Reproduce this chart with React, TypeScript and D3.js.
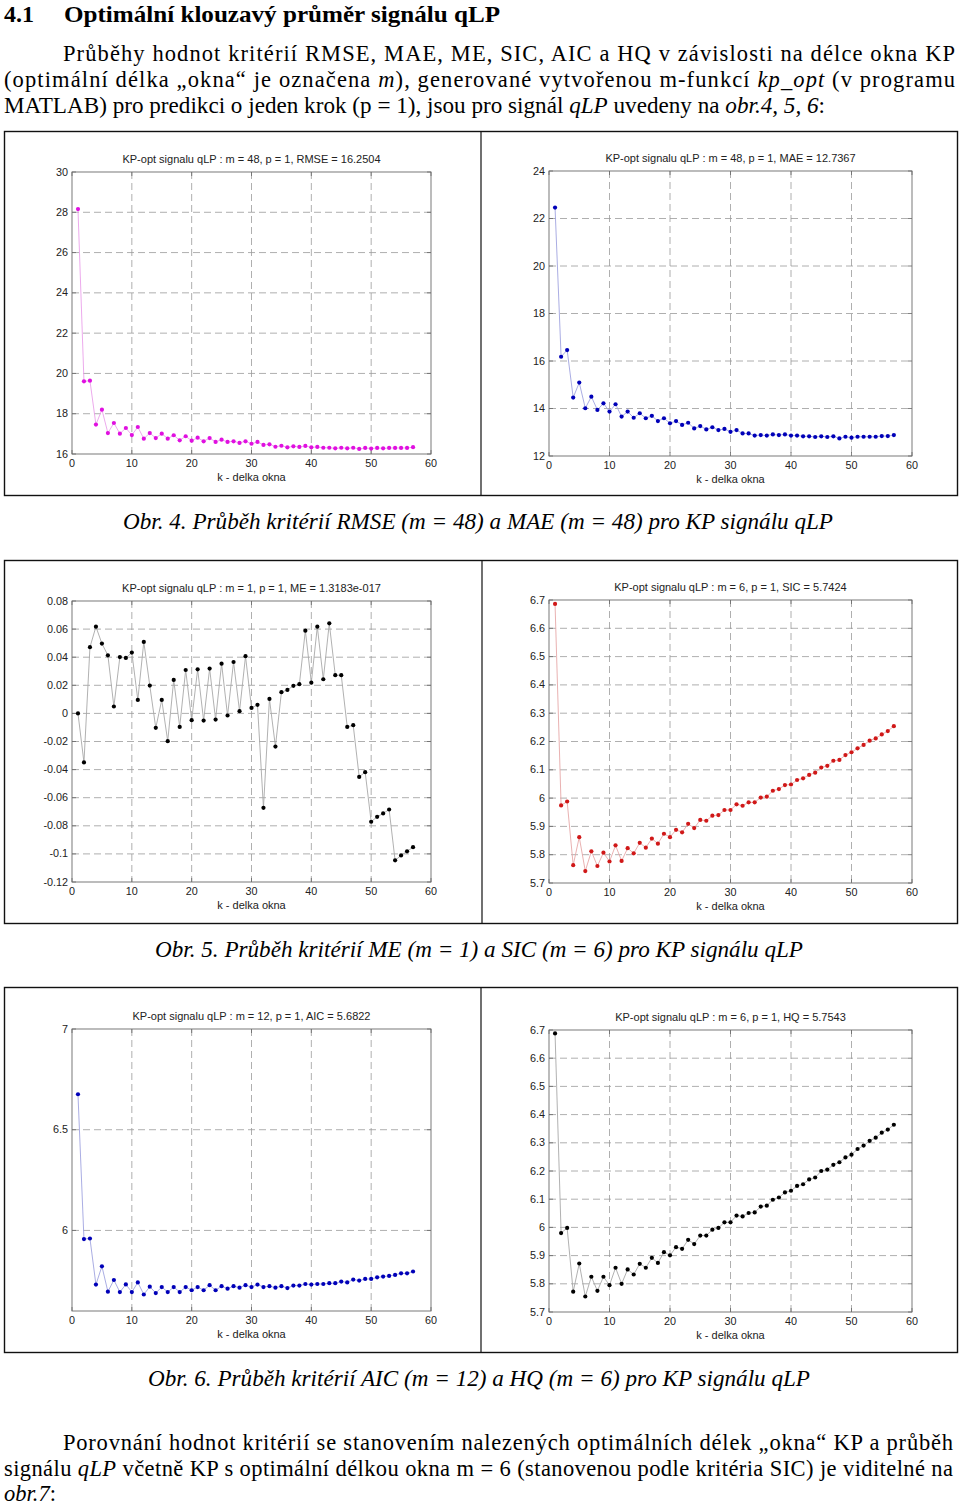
import React from 'react';
import * as d3 from 'd3';

const kValues = [1,2,3,4,5,6,7,8,9,10,11,12,13,14,15,16,17,18,19,20,21,22,23,24,25,26,27,28,29,30,31,32,33,34,35,36,37,38,39,40,41,42,43,44,45,46,47,48,49,50,51,52,53,54,55,56,57];

const rmseValues = [28.16,19.61,19.64,17.46,18.20,17.04,17.54,17.01,17.29,16.94,17.34,16.76,17.04,16.79,17.01,16.76,16.93,16.68,16.88,16.66,16.81,16.63,16.79,16.60,16.71,16.60,16.63,16.55,16.63,16.51,16.60,16.45,16.48,16.36,16.41,16.33,16.38,16.35,16.40,16.33,16.35,16.31,16.31,16.28,16.31,16.28,16.31,16.25,16.30,16.27,16.30,16.28,16.30,16.30,16.30,16.30,16.34];

const maeValues = [22.46,16.18,16.46,14.46,15.09,14.01,14.50,13.94,14.22,13.87,14.18,13.66,13.87,13.61,13.80,13.59,13.69,13.47,13.59,13.38,13.47,13.31,13.40,13.16,13.26,13.12,13.21,13.09,13.14,13.02,13.09,12.95,12.95,12.86,12.88,12.86,12.91,12.88,12.91,12.86,12.86,12.83,12.83,12.80,12.83,12.80,12.83,12.74,12.81,12.77,12.81,12.81,12.81,12.81,12.84,12.84,12.88];

const meValues = [0.000,-0.0349,0.0471,0.0617,0.0497,0.0413,0.0049,0.0401,0.0395,0.0433,0.0096,0.0509,0.0198,-0.0103,0.0096,-0.0198,0.0238,-0.0096,0.0309,-0.0048,0.0314,-0.0051,0.0319,-0.0044,0.0354,-0.0015,0.0366,0.0016,0.0407,0.0039,0.0061,-0.0672,0.0103,-0.0236,0.0151,0.0167,0.0196,0.0208,0.0589,0.0219,0.0617,0.0243,0.0641,0.0272,0.0272,-0.0096,-0.0084,-0.0452,-0.0418,-0.0771,-0.0736,-0.0712,-0.0684,-0.1046,-0.1011,-0.0982,-0.0952];

const sicValues = [6.686,5.974,5.988,5.763,5.862,5.742,5.812,5.760,5.807,5.776,5.833,5.778,5.823,5.805,5.842,5.825,5.857,5.839,5.874,5.862,5.888,5.879,5.909,5.894,5.923,5.920,5.938,5.940,5.958,5.958,5.978,5.973,5.985,5.985,6.002,6.005,6.026,6.032,6.046,6.048,6.064,6.070,6.082,6.090,6.108,6.114,6.132,6.135,6.152,6.162,6.176,6.188,6.203,6.211,6.225,6.237,6.254];

const aicValues = [6.676,5.957,5.960,5.731,5.822,5.696,5.754,5.694,5.732,5.694,5.742,5.682,5.721,5.689,5.719,5.694,5.719,5.694,5.719,5.703,5.719,5.703,5.728,5.703,5.723,5.711,5.723,5.716,5.728,5.719,5.731,5.719,5.723,5.716,5.723,5.714,5.726,5.726,5.734,5.731,5.734,5.734,5.738,5.738,5.746,5.742,5.756,5.751,5.759,5.759,5.767,5.771,5.774,5.779,5.787,5.787,5.796];

const hqValues = [6.688,5.980,5.998,5.772,5.872,5.755,5.825,5.775,5.825,5.795,5.857,5.800,5.851,5.833,5.871,5.857,5.892,5.874,5.912,5.901,5.930,5.924,5.956,5.941,5.971,5.971,5.992,5.998,6.018,6.018,6.042,6.039,6.051,6.053,6.074,6.077,6.098,6.106,6.124,6.130,6.147,6.153,6.170,6.177,6.200,6.205,6.222,6.231,6.248,6.258,6.278,6.290,6.307,6.318,6.336,6.347,6.364];

const xTicks = [0,10,20,30,40,50,60];
const rmseTicks = [16,18,20,22,24,26,28,30];
const maeTicks = [12,14,16,18,20,22,24];
const meTicks = [-0.12,-0.1,-0.08,-0.06,-0.04,-0.02,0,0.02,0.04,0.06,0.08];
const sicTicks = [5.7,5.8,5.9,6,6.1,6.2,6.3,6.4,6.5,6.6,6.7];
const aicTicks = [6,6.5,7];
const hqTicks = [5.7,5.8,5.9,6,6.1,6.2,6.3,6.4,6.5,6.6,6.7];

const titles = [
  'KP-opt signalu qLP : m = 48, p = 1, RMSE = 16.2504',
  'KP-opt signalu qLP : m = 48, p = 1, MAE = 12.7367',
  'KP-opt signalu qLP : m = 1, p = 1, ME = 1.3183e-017',
  'KP-opt signalu qLP : m = 6, p = 1, SIC = 5.7424',
  'KP-opt signalu qLP : m = 12, p = 1, AIC = 5.6822',
  'KP-opt signalu qLP : m = 6, p = 1, HQ = 5.7543',
];
const xLabel = 'k - delka okna';

const SANS = '"Liberation Sans", Arial, Helvetica, sans-serif';
const SERIF = '"Liberation Serif", "Times New Roman", Times, serif';

type PanelProps = {
  L: number; T: number; R: number; B: number;
  yDomain: [number, number];
  yTicks: number[];
  values: number[];
  title: string;
  color: string;
  lineColor: string;
};

const fmt = (v: number) => String(Math.round(v * 1000) / 1000);

function Panel({ L, T, R, B, yDomain, yTicks, values, title, color, lineColor }: PanelProps) {
  const x = d3.scaleLinear().domain([0, 60]).range([L, R]);
  const y = d3.scaleLinear().domain(yDomain).range([B, T]);
  const line = d3.line<number>().x((_, i) => x(kValues[i])).y((d) => y(d));
  const gridX = xTicks.filter((t) => t > 0 && t < 60);
  const gridY = yTicks.filter((t) => Math.abs(y(t) - T) > 1 && Math.abs(y(t) - B) > 1);
  const tl = 4;
  return (
    <g>
      <rect x={L} y={T} width={R - L} height={B - T} fill="#fff" />
      {gridX.map((t) => (
        <line key={'gx' + t} x1={x(t)} x2={x(t)} y1={T} y2={B} stroke="#9a9a9a" strokeWidth={0.8} strokeDasharray="7,4" />
      ))}
      {gridY.map((t) => (
        <line key={'gy' + t} x1={L} x2={R} y1={y(t)} y2={y(t)} stroke="#9a9a9a" strokeWidth={0.8} strokeDasharray="7,4" />
      ))}
      {xTicks.map((t) => (
        <g key={'xt' + t}>
          <line x1={x(t)} x2={x(t)} y1={B} y2={B - tl} stroke="#666" strokeWidth={0.8} />
          <line x1={x(t)} x2={x(t)} y1={T} y2={T + tl} stroke="#666" strokeWidth={0.8} />
          <text x={x(t)} y={B + 13} fontSize={10.8} fontFamily={SANS} textAnchor="middle" fill="#222">{fmt(t)}</text>
        </g>
      ))}
      {yTicks.map((t) => (
        <g key={'yt' + t}>
          <line x1={L} x2={L + tl} y1={y(t)} y2={y(t)} stroke="#666" strokeWidth={0.8} />
          <line x1={R} x2={R - tl} y1={y(t)} y2={y(t)} stroke="#666" strokeWidth={0.8} />
          <text x={L - 4} y={y(t) + 3.5} fontSize={10.8} fontFamily={SANS} textAnchor="end" fill="#222">{fmt(t)}</text>
        </g>
      ))}
      <rect x={L} y={T} width={R - L} height={B - T} fill="none" stroke="#6a6a6a" strokeWidth={0.9} />
      <path d={line(values) || ''} fill="none" stroke={lineColor} strokeWidth={0.9} />
      {values.map((v, i) => (
        <circle key={'p' + i} cx={x(kValues[i])} cy={y(v)} r={2.1} fill={color} />
      ))}
      <text x={(L + R) / 2} y={T - 9} fontSize={11} fontFamily={SANS} textAnchor="middle" fill="#222">{title}</text>
      <text x={(L + R) / 2} y={B + 27} fontSize={11} fontFamily={SANS} textAnchor="middle" fill="#222">{xLabel}</text>
    </g>
  );
}

const frames = [
  { top: 131, bottom: 495, div: 481 },
  { top: 560, bottom: 923, div: 482 },
  { top: 987, bottom: 1352, div: 481 },
];

export default function App() {
  return (
    <svg width={960} height={1506} viewBox="0 0 960 1506" style={{ position: 'absolute', left: 0, top: 0, background: '#fff' }}>
      <rect x={0} y={0} width={960} height={1506} fill="#fff" />
      <text x={4} y={22} fontFamily={SERIF} fontWeight="bold" fontSize={24}>4.1</text>
      <text x={64} y={22} fontFamily={SERIF} fontWeight="bold" fontSize={24} textLength={436} lengthAdjust="spacingAndGlyphs">Optimální klouzavý průměr signálu qLP</text>
      <text x={63} y={61} fontFamily={SERIF} fontSize={22.5} textLength={892} lengthAdjust="spacing">Průběhy hodnot kritérií RMSE, MAE, ME, SIC, AIC a HQ v závislosti na délce okna KP</text>
      <text x={4} y={87} fontFamily={SERIF} fontSize={22.5} textLength={951} lengthAdjust="spacing">
        (optimální délka „okna“ je označena <tspan fontStyle="italic">m</tspan>), generované vytvořenou m-funkcí <tspan fontStyle="italic">kp_opt</tspan> (v programu
      </text>
      <text x={4} y={113} fontFamily={SERIF} fontSize={22.5} textLength={821} lengthAdjust="spacingAndGlyphs">
        MATLAB) pro predikci o jeden krok (p = 1), jsou pro signál <tspan fontStyle="italic">qLP</tspan> uvedeny na <tspan fontStyle="italic">obr.4, 5, 6</tspan>:
      </text>

      {frames.map((f, i) => (
        <g key={'f' + i}>
          <rect x={4.5} y={f.top + 0.5} width={953} height={f.bottom - f.top} fill="none" stroke="#111" strokeWidth={1.4} />
          <line x1={f.div} x2={f.div} y1={f.top} y2={f.bottom} stroke="#111" strokeWidth={1.2} />
        </g>
      ))}

      <Panel L={72} T={172} R={431} B={454} yDomain={[16, 30]} yTicks={rmseTicks} values={rmseValues} title={titles[0]} color="#e010e0" lineColor="#eaa0ea" />
      <Panel L={549} T={171} R={912} B={456} yDomain={[12, 24]} yTicks={maeTicks} values={maeValues} title={titles[1]} color="#0000b8" lineColor="#a0a4e0" />
      <Panel L={72} T={601} R={431} B={882} yDomain={[-0.12, 0.08]} yTicks={meTicks} values={meValues} title={titles[2]} color="#000" lineColor="#a8a8a8" />
      <Panel L={549} T={600} R={912} B={883} yDomain={[5.7, 6.7]} yTicks={sicTicks} values={sicValues} title={titles[3]} color="#d01818" lineColor="#e6a8a8" />
      <Panel L={72} T={1029} R={431} B={1311} yDomain={[5.6, 7]} yTicks={aicTicks} values={aicValues} title={titles[4]} color="#0000b8" lineColor="#a0a4e0" />
      <Panel L={549} T={1030} R={912} B={1312} yDomain={[5.7, 6.7]} yTicks={hqTicks} values={hqValues} title={titles[5]} color="#000" lineColor="#a8a8a8" />

      <text x={478} y={529} fontFamily={SERIF} fontStyle="italic" fontSize={23} textAnchor="middle" textLength={710} lengthAdjust="spacingAndGlyphs">Obr. 4. Průběh kritérií RMSE (m = 48) a MAE (m = 48) pro KP signálu qLP</text>
      <text x={479} y={957} fontFamily={SERIF} fontStyle="italic" fontSize={23} textAnchor="middle" textLength={648} lengthAdjust="spacingAndGlyphs">Obr. 5. Průběh kritérií ME (m = 1) a SIC (m = 6) pro KP signálu qLP</text>
      <text x={479} y={1386} fontFamily={SERIF} fontStyle="italic" fontSize={23} textAnchor="middle" textLength={662} lengthAdjust="spacingAndGlyphs">Obr. 6. Průběh kritérií AIC (m = 12) a HQ (m = 6) pro KP signálu qLP</text>

      <text x={63} y={1450} fontFamily={SERIF} fontSize={22.5} textLength={890} lengthAdjust="spacing">Porovnání hodnot kritérií se stanovením nalezených optimálních délek „okna“ KP a průběh</text>
      <text x={4} y={1476} fontFamily={SERIF} fontSize={22.5} textLength={949} lengthAdjust="spacing">
        signálu <tspan fontStyle="italic">qLP</tspan> včetně KP s optimální délkou okna m = 6 (stanovenou podle kritéria SIC) je viditelné na
      </text>
      <text x={4} y={1501} fontFamily={SERIF} fontSize={22.5}>
        <tspan fontStyle="italic">obr.7</tspan>:
      </text>
    </svg>
  );
}
